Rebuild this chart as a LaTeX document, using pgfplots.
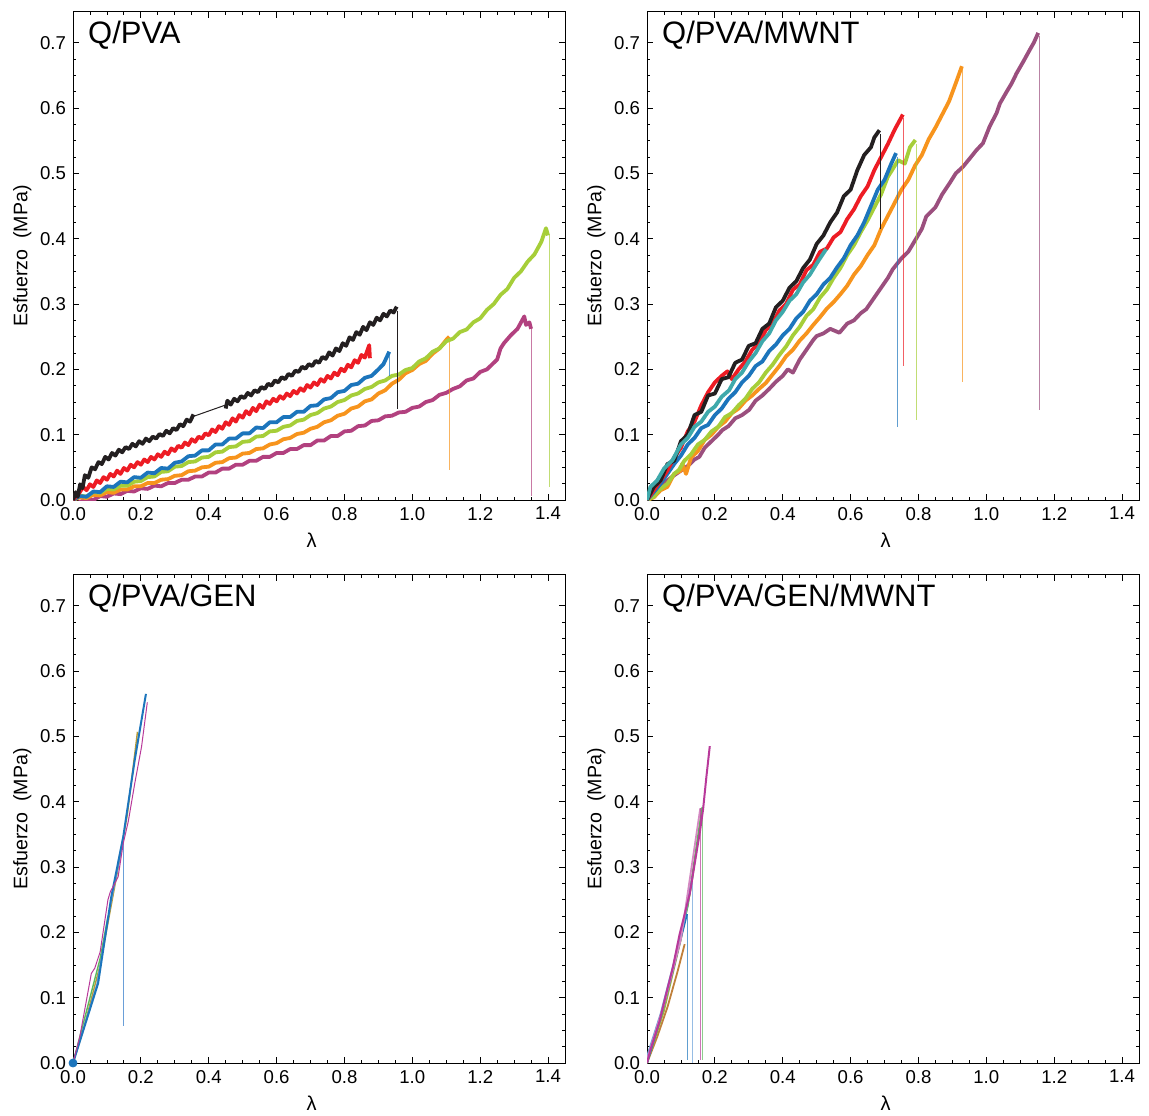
\documentclass[border=0pt]{standalone}
\usepackage{pgfplots}
\pgfplotsset{compat=1.18}
\usepackage{fontspec}
\setmainfont{Liberation Sans}
\definecolor{cblack}{HTML}{231F20}
\definecolor{cred}{HTML}{ED1C24}
\definecolor{cblue}{HTML}{1C75BC}
\definecolor{cgreen}{HTML}{A6CE39}
\definecolor{corange}{HTML}{F7941D}
\definecolor{cpurple}{HTML}{B2417F}
\definecolor{cmauve}{HTML}{9B4F7E}
\definecolor{cteal}{HTML}{3FA9AB}
\definecolor{colive}{HTML}{B89B36}
\definecolor{cgreen2}{HTML}{5DB85C}
\definecolor{cmag}{HTML}{B8399A}
\definecolor{clblue}{HTML}{6A9FD8}
\definecolor{cbrown}{HTML}{C0803A}
\definecolor{colive2}{HTML}{9CB040}
\tikzset{
  thickc/.style={line width=1.9pt},
  dropl/.style={line width=0.5pt, opacity=0.7},
  ttl/.style={anchor=west, inner sep=0pt, font=\fontsize{15.5}{18}\selectfont},
}
\pgfplotsset{
  myax/.style={
    scale only axis, width=246pt, height=244pt,
    xmin=0, xmax=1.45, ymin=0, ymax=0.747,
    xtick={0,0.2,0.4,0.6,0.8,1.0,1.2,1.4},
    ytick={0,0.1,0.2,0.3,0.4,0.5,0.6,0.7},
    minor x tick num=3, minor y tick num=3,
    tick align=inside, major tick length=3pt, minor tick length=1.6pt,
    every tick/.style={black, line width=0.4pt},
    axis line style={line width=0.5pt, black},
    /pgf/number format/assume math mode=true,
    xticklabel style={/pgf/number format/.cd, fixed, fixed zerofill, precision=1, /tikz/.cd, font=\fontsize{9.3}{10}\selectfont},
    yticklabel style={/pgf/number format/.cd, fixed, fixed zerofill, precision=1, /tikz/.cd, font=\fontsize{9.3}{10}\selectfont},
    xlabel={λ}, ylabel={Esfuerzo\ \ (MPa)},
    xlabel style={at={(axis description cs:0.485,-0.082)}, anchor=center, font=\fontsize{10}{11}\selectfont},
    ylabel style={at={(axis description cs:-0.103,0.5)}, anchor=center, font=\fontsize{9.8}{11}\selectfont},
    every axis plot/.append style={line join=round},
  },
}
\begin{document}
\begin{tikzpicture}
%%%%%%%%%%%%%%%%%%%% Panel 1: Q/PVA
\begin{axis}[myax, at={(36.5pt,307.5pt)}, anchor=south west]
\node[ttl] at (axis description cs:0.03,0.953) {Q/PVA};
% purple
\addplot[cpurple, thickc] coordinates {(0,-0.01)(0.02,-0.003)(0.04,0.001)(0.06,0.0)(0.08,0.006)(0.1,0.005)(0.12,0.01)(0.14,0.009)(0.16,0.014)(0.18,0.013)(0.2,0.018)(0.22,0.017)(0.24,0.022)(0.26,0.021)(0.28,0.026)(0.3,0.026)(0.32,0.031)(0.34,0.031)(0.36,0.036)(0.38,0.036)(0.4,0.042)(0.42,0.042)(0.44,0.048)(0.46,0.048)(0.48,0.054)(0.5,0.054)(0.52,0.06)(0.54,0.06)(0.56,0.066)(0.58,0.066)(0.6,0.072)(0.62,0.072)(0.64,0.078)(0.66,0.078)(0.68,0.084)(0.7,0.084)(0.72,0.091)(0.74,0.091)(0.76,0.098)(0.78,0.098)(0.8,0.105)(0.82,0.106)(0.84,0.113)(0.86,0.114)(0.88,0.121)(0.9,0.122)(0.92,0.128)(0.94,0.129)(0.96,0.134)(0.98,0.135)(1.0,0.141)(1.02,0.143)(1.04,0.15)(1.06,0.153)(1.08,0.161)(1.1,0.164)(1.12,0.17)(1.14,0.174)(1.16,0.183)(1.18,0.186)(1.2,0.196)(1.22,0.2)(1.24,0.21)(1.25,0.215)(1.26,0.232)(1.27,0.24)(1.29,0.252)(1.31,0.262)(1.33,0.281)(1.335,0.268)(1.345,0.272)(1.35,0.262)};
\addplot[cpurple, dropl] coordinates {(1.352,0.265)(1.352,0.006)};
% orange
\addplot[corange, thickc] coordinates {(0,0)(0.02,0.004)(0.04,0.003)(0.06,0.008)(0.08,0.007)(0.1,0.012)(0.12,0.011)(0.14,0.016)(0.16,0.016)(0.18,0.021)(0.2,0.021)(0.22,0.026)(0.24,0.026)(0.26,0.031)(0.28,0.032)(0.3,0.037)(0.32,0.038)(0.34,0.044)(0.36,0.045)(0.38,0.05)(0.4,0.051)(0.42,0.057)(0.44,0.058)(0.46,0.064)(0.48,0.065)(0.5,0.071)(0.52,0.072)(0.54,0.078)(0.56,0.079)(0.58,0.085)(0.6,0.087)(0.62,0.093)(0.64,0.095)(0.66,0.101)(0.68,0.103)(0.7,0.109)(0.72,0.112)(0.74,0.119)(0.76,0.122)(0.78,0.129)(0.8,0.132)(0.82,0.14)(0.84,0.143)(0.86,0.151)(0.88,0.154)(0.9,0.163)(0.92,0.168)(0.94,0.178)(0.96,0.184)(0.98,0.194)(1.0,0.199)(1.02,0.208)(1.04,0.213)(1.06,0.224)(1.08,0.232)(1.1,0.245)(1.109,0.25)};
\addplot[corange, dropl] coordinates {(1.11,0.248)(1.11,0.046)};
% green
\addplot[cgreen, thickc] coordinates {(0,0)(0.02,0.007)(0.04,0.005)(0.06,0.012)(0.08,0.011)(0.1,0.017)(0.12,0.016)(0.14,0.022)(0.16,0.022)(0.18,0.028)(0.2,0.029)(0.22,0.035)(0.24,0.036)(0.26,0.043)(0.28,0.044)(0.3,0.051)(0.32,0.052)(0.34,0.058)(0.36,0.059)(0.38,0.065)(0.4,0.066)(0.42,0.073)(0.44,0.074)(0.46,0.081)(0.48,0.082)(0.5,0.089)(0.52,0.09)(0.54,0.097)(0.56,0.098)(0.58,0.105)(0.6,0.106)(0.62,0.112)(0.64,0.114)(0.66,0.121)(0.68,0.123)(0.7,0.13)(0.72,0.133)(0.74,0.14)(0.76,0.143)(0.78,0.15)(0.8,0.153)(0.82,0.16)(0.84,0.163)(0.86,0.17)(0.88,0.173)(0.9,0.18)(0.92,0.183)(0.94,0.19)(0.96,0.192)(0.98,0.199)(1.0,0.202)(1.02,0.212)(1.04,0.217)(1.06,0.227)(1.08,0.232)(1.1,0.243)(1.12,0.247)(1.14,0.257)(1.16,0.261)(1.18,0.272)(1.2,0.278)(1.22,0.291)(1.24,0.3)(1.26,0.314)(1.28,0.323)(1.3,0.34)(1.32,0.35)(1.34,0.365)(1.36,0.376)(1.38,0.395)(1.394,0.416)(1.4,0.405)};
\addplot[cgreen, dropl] coordinates {(1.405,0.405)(1.405,0.02)};
% blue
\addplot[cblue, thickc] coordinates {(0,0)(0.02,0.006)(0.04,0.005)(0.06,0.013)(0.08,0.012)(0.1,0.021)(0.12,0.02)(0.14,0.028)(0.16,0.027)(0.18,0.035)(0.2,0.034)(0.22,0.042)(0.24,0.041)(0.26,0.049)(0.28,0.048)(0.3,0.057)(0.32,0.059)(0.34,0.067)(0.36,0.068)(0.38,0.076)(0.4,0.076)(0.42,0.085)(0.44,0.085)(0.46,0.094)(0.48,0.094)(0.5,0.102)(0.52,0.102)(0.54,0.111)(0.56,0.11)(0.58,0.119)(0.6,0.119)(0.62,0.127)(0.64,0.127)(0.66,0.135)(0.68,0.135)(0.7,0.144)(0.72,0.145)(0.74,0.154)(0.76,0.156)(0.78,0.165)(0.8,0.167)(0.82,0.176)(0.84,0.178)(0.86,0.187)(0.88,0.19)(0.9,0.2)(0.915,0.208)(0.932,0.227)};
\addplot[cblue, dropl] coordinates {(0.934,0.224)(0.934,0.19)};
% red
\addplot[cred, thickc] coordinates {(0,0)(0.02,0.012)(0.03,0.02)(0.04,0.015)(0.05,0.024)(0.06,0.02)(0.07,0.03)(0.08,0.026)(0.09,0.035)(0.1,0.031)(0.11,0.04)(0.12,0.036)(0.13,0.045)(0.14,0.04)(0.15,0.049)(0.16,0.045)(0.17,0.054)(0.18,0.05)(0.19,0.058)(0.2,0.054)(0.21,0.062)(0.22,0.058)(0.23,0.066)(0.24,0.062)(0.25,0.07)(0.26,0.066)(0.27,0.074)(0.28,0.07)(0.29,0.079)(0.3,0.075)(0.31,0.083)(0.32,0.08)(0.33,0.088)(0.34,0.084)(0.35,0.093)(0.36,0.089)(0.37,0.097)(0.38,0.094)(0.39,0.102)(0.4,0.099)(0.41,0.108)(0.42,0.104)(0.43,0.113)(0.44,0.109)(0.45,0.119)(0.46,0.115)(0.47,0.125)(0.48,0.12)(0.49,0.13)(0.5,0.126)(0.51,0.136)(0.52,0.131)(0.53,0.141)(0.54,0.136)(0.55,0.146)(0.56,0.141)(0.57,0.151)(0.58,0.147)(0.59,0.155)(0.6,0.151)(0.61,0.159)(0.62,0.155)(0.63,0.163)(0.64,0.159)(0.65,0.167)(0.66,0.163)(0.67,0.171)(0.68,0.167)(0.69,0.176)(0.7,0.172)(0.71,0.18)(0.72,0.176)(0.73,0.185)(0.74,0.181)(0.75,0.19)(0.76,0.186)(0.77,0.195)(0.78,0.191)(0.79,0.201)(0.8,0.197)(0.81,0.207)(0.82,0.203)(0.83,0.214)(0.84,0.21)(0.85,0.222)(0.86,0.218)(0.873,0.237)(0.875,0.217)};
% black
\addplot[cblack, thickc] coordinates {(0,0)(0.008,0.012)(0.014,0.005)(0.021,0.024)(0.028,0.018)(0.035,0.038)(0.045,0.034)(0.055,0.05)(0.065,0.047)(0.075,0.058)(0.085,0.055)(0.095,0.066)(0.105,0.062)(0.115,0.072)(0.125,0.068)(0.135,0.077)(0.145,0.073)(0.155,0.081)(0.165,0.078)(0.175,0.086)(0.185,0.082)(0.195,0.09)(0.205,0.086)(0.215,0.094)(0.225,0.09)(0.235,0.097)(0.245,0.094)(0.255,0.101)(0.265,0.098)(0.275,0.106)(0.285,0.102)(0.295,0.11)(0.305,0.107)(0.315,0.116)(0.325,0.113)(0.335,0.123)(0.345,0.12)(0.355,0.131)};
\addplot[cblack, line width=0.5pt] coordinates {(0.355,0.128)(0.453,0.146)};
\addplot[cblack, thickc] coordinates {(0.45,0.14)(0.455,0.152)(0.465,0.146)(0.475,0.155)(0.485,0.151)(0.495,0.159)(0.505,0.156)(0.515,0.164)(0.525,0.16)(0.535,0.168)(0.545,0.165)(0.555,0.173)(0.565,0.17)(0.575,0.178)(0.585,0.175)(0.595,0.183)(0.605,0.18)(0.615,0.188)(0.625,0.185)(0.635,0.193)(0.645,0.19)(0.655,0.198)(0.665,0.196)(0.675,0.204)(0.685,0.201)(0.695,0.208)(0.705,0.205)(0.715,0.213)(0.725,0.21)(0.735,0.219)(0.745,0.216)(0.755,0.226)(0.765,0.221)(0.775,0.232)(0.785,0.228)(0.795,0.24)(0.805,0.236)(0.815,0.249)(0.825,0.245)(0.835,0.257)(0.845,0.253)(0.855,0.265)(0.865,0.26)(0.875,0.272)(0.885,0.268)(0.895,0.279)(0.905,0.275)(0.915,0.285)(0.925,0.281)(0.935,0.29)(0.945,0.287)(0.954,0.296)};
\addplot[cblack, line width=0.6pt] coordinates {(0.956,0.29)(0.956,0.14)};
\end{axis}
%%%%%%%%%%%%%%%%%%%% Panel 2: Q/PVA/MWNT
\begin{axis}[myax, at={(323.5pt,307.5pt)}, anchor=south west]
\node[ttl] at (axis description cs:0.03,0.953) {Q/PVA/MWNT};
% mauve
\addplot[cmauve, thickc] coordinates {(0,0)(0.016,0.005)(0.04,0.02)(0.06,0.03)(0.075,0.036)(0.1,0.045)(0.12,0.052)(0.14,0.062)(0.154,0.066)(0.17,0.08)(0.19,0.09)(0.21,0.1)(0.222,0.107)(0.24,0.113)(0.26,0.125)(0.28,0.13)(0.301,0.138)(0.32,0.152)(0.34,0.16)(0.36,0.17)(0.38,0.181)(0.4,0.19)(0.415,0.2)(0.43,0.195)(0.45,0.215)(0.47,0.23)(0.49,0.245)(0.5,0.251)(0.52,0.255)(0.54,0.262)(0.567,0.256)(0.59,0.27)(0.61,0.275)(0.63,0.286)(0.646,0.292)(0.67,0.31)(0.69,0.325)(0.71,0.34)(0.724,0.353)(0.75,0.37)(0.77,0.38)(0.793,0.40)(0.81,0.415)(0.823,0.434)(0.85,0.448)(0.87,0.468)(0.892,0.485)(0.91,0.5)(0.931,0.51)(0.95,0.522)(0.97,0.535)(0.99,0.546)(1.01,0.572)(1.03,0.592)(1.04,0.607)(1.06,0.625)(1.075,0.638)(1.089,0.653)(1.11,0.672)(1.128,0.689)(1.14,0.7)(1.153,0.715)};
\addplot[cmauve, dropl] coordinates {(1.156,0.71)(1.156,0.138)};
% orange
\addplot[corange, thickc] coordinates {(0,0)(0.02,0.004)(0.04,0.015)(0.06,0.02)(0.08,0.04)(0.1,0.045)(0.104,0.056)(0.115,0.04)(0.13,0.065)(0.15,0.075)(0.17,0.092)(0.19,0.1)(0.21,0.112)(0.23,0.12)(0.25,0.133)(0.27,0.14)(0.29,0.152)(0.31,0.16)(0.33,0.17)(0.35,0.179)(0.37,0.192)(0.39,0.205)(0.41,0.22)(0.43,0.23)(0.45,0.244)(0.47,0.255)(0.49,0.268)(0.51,0.28)(0.53,0.293)(0.55,0.303)(0.57,0.315)(0.59,0.328)(0.61,0.345)(0.63,0.358)(0.65,0.375)(0.67,0.39)(0.69,0.415)(0.71,0.435)(0.73,0.455)(0.75,0.475)(0.77,0.49)(0.79,0.512)(0.81,0.528)(0.83,0.552)(0.85,0.57)(0.87,0.59)(0.89,0.61)(0.91,0.638)(0.928,0.664)};
\addplot[corange, dropl] coordinates {(0.929,0.66)(0.929,0.18)};
% green
\addplot[cgreen, thickc] coordinates {(0,0)(0.02,0.005)(0.035,0.015)(0.06,0.025)(0.08,0.04)(0.094,0.046)(0.11,0.06)(0.13,0.07)(0.15,0.085)(0.17,0.092)(0.19,0.105)(0.21,0.112)(0.23,0.127)(0.25,0.133)(0.27,0.145)(0.29,0.155)(0.31,0.17)(0.33,0.18)(0.35,0.195)(0.37,0.207)(0.39,0.222)(0.41,0.235)(0.43,0.252)(0.45,0.265)(0.47,0.282)(0.49,0.292)(0.51,0.31)(0.53,0.322)(0.55,0.34)(0.57,0.355)(0.59,0.375)(0.61,0.39)(0.63,0.41)(0.65,0.428)(0.67,0.448)(0.69,0.468)(0.71,0.495)(0.72,0.503)(0.74,0.52)(0.76,0.515)(0.775,0.54)(0.791,0.551)};
\addplot[cgreen, dropl] coordinates {(0.793,0.545)(0.793,0.123)};
% blue
\addplot[cblue, thickc] coordinates {(0,0)(0.02,0.012)(0.04,0.025)(0.06,0.04)(0.08,0.055)(0.1,0.068)(0.12,0.085)(0.14,0.095)(0.16,0.11)(0.18,0.115)(0.2,0.13)(0.22,0.14)(0.24,0.155)(0.26,0.165)(0.28,0.18)(0.3,0.19)(0.32,0.205)(0.34,0.212)(0.36,0.228)(0.38,0.238)(0.4,0.252)(0.42,0.262)(0.44,0.278)(0.46,0.288)(0.48,0.305)(0.5,0.315)(0.52,0.33)(0.54,0.34)(0.56,0.356)(0.58,0.37)(0.6,0.39)(0.62,0.405)(0.64,0.425)(0.66,0.45)(0.68,0.475)(0.7,0.49)(0.72,0.515)(0.734,0.531)};
\addplot[cblue, dropl] coordinates {(0.737,0.525)(0.737,0.111)};
% red
\addplot[cred, thickc] coordinates {(0,0)(0.02,0.015)(0.04,0.03)(0.06,0.045)(0.08,0.065)(0.1,0.08)(0.12,0.105)(0.14,0.12)(0.16,0.145)(0.18,0.165)(0.2,0.18)(0.22,0.19)(0.237,0.197)(0.25,0.185)(0.27,0.2)(0.29,0.212)(0.31,0.23)(0.33,0.24)(0.35,0.26)(0.37,0.27)(0.39,0.29)(0.41,0.3)(0.43,0.322)(0.45,0.33)(0.47,0.352)(0.49,0.36)(0.51,0.38)(0.53,0.385)(0.55,0.402)(0.57,0.41)(0.59,0.43)(0.61,0.445)(0.63,0.465)(0.65,0.48)(0.67,0.505)(0.69,0.525)(0.71,0.545)(0.73,0.567)(0.754,0.59)};
\addplot[cred, dropl] coordinates {(0.757,0.585)(0.757,0.205)};
% black
\addplot[cblack, thickc] coordinates {(0,0)(0.02,0.02)(0.04,0.03)(0.06,0.055)(0.08,0.06)(0.1,0.09)(0.12,0.1)(0.14,0.13)(0.16,0.135)(0.18,0.16)(0.2,0.163)(0.22,0.185)(0.24,0.188)(0.26,0.21)(0.28,0.215)(0.3,0.236)(0.32,0.24)(0.34,0.262)(0.36,0.27)(0.38,0.295)(0.4,0.305)(0.42,0.325)(0.44,0.335)(0.46,0.355)(0.48,0.368)(0.5,0.392)(0.52,0.405)(0.54,0.425)(0.56,0.44)(0.58,0.465)(0.6,0.475)(0.62,0.505)(0.64,0.528)(0.66,0.54)(0.67,0.555)(0.685,0.566)};
\addplot[cblack, line width=0.6pt] coordinates {(0.687,0.56)(0.687,0.415)};
% teal
\addplot[cteal, thickc] coordinates {(0,0)(0.01,0.02)(0.03,0.03)(0.05,0.048)(0.075,0.061)(0.1,0.085)(0.12,0.095)(0.14,0.112)(0.16,0.12)(0.18,0.135)(0.2,0.143)(0.22,0.158)(0.242,0.168)(0.26,0.185)(0.28,0.195)(0.3,0.212)(0.32,0.225)(0.34,0.243)(0.36,0.255)(0.38,0.275)(0.4,0.288)(0.42,0.305)(0.44,0.315)(0.46,0.333)(0.48,0.345)(0.5,0.362)(0.51,0.37)(0.528,0.384)};
\end{axis}
%%%%%%%%%%%%%%%%%%%% Panel 3: Q/PVA/GEN
\begin{axis}[myax, at={(36.5pt,26pt)}, anchor=south west]
\node[ttl] at (axis description cs:0.03,0.953) {Q/PVA/GEN};
\addplot[colive, line width=0.7pt] coordinates {(0,0)(0.03,0.05)(0.08,0.15)(0.13,0.29)(0.16,0.38)(0.19,0.507)};
\addplot[cgreen2, line width=0.7pt] coordinates {(0,0)(0.05,0.1)(0.08,0.16)(0.103,0.224)};
\addplot[clblue, line width=0.6pt] coordinates {(0,0)(0.07,0.12)(0.11,0.24)(0.148,0.34)};
\addplot[clblue, line width=0.6pt] coordinates {(0.148,0.34)(0.148,0.056)};
\addplot[cblue, line width=1pt] coordinates {(0,0)(0.074,0.122)(0.113,0.255)(0.148,0.346)(0.182,0.464)(0.215,0.565)};
\addplot[cmag, line width=0.5pt] coordinates {(0,0)(0.02,0.04)(0.054,0.137)(0.064,0.145)(0.08,0.17)(0.103,0.25)(0.11,0.262)(0.133,0.285)(0.148,0.336)(0.163,0.37)(0.182,0.428)(0.202,0.484)(0.219,0.552)};
\addplot[cblue, only marks, mark=*, mark size=2pt] coordinates {(0,0)};
\end{axis}
%%%%%%%%%%%%%%%%%%%% Panel 4: Q/PVA/GEN/MWNT
\begin{axis}[myax, at={(323.5pt,26pt)}, anchor=south west]
\node[ttl] at (axis description cs:0.03,0.953) {Q/PVA/GEN/MWNT};
\addplot[cbrown, line width=0.9pt] coordinates {(0,0)(0.03,0.04)(0.06,0.085)(0.09,0.14)(0.111,0.182)};
\addplot[colive2, line width=0.9pt] coordinates {(0,0)(0.05,0.08)(0.1,0.19)(0.13,0.27)(0.16,0.38)};
\addplot[cgreen2, line width=0.9pt] coordinates {(0,0)(0.04,0.07)(0.08,0.15)(0.12,0.24)(0.163,0.392)};
\addplot[cgreen2, dropl] coordinates {(0.165,0.385)(0.165,0.005)};
\addplot[cblue, line width=0.9pt] coordinates {(0,0)(0.04,0.07)(0.08,0.15)(0.118,0.228)};
\addplot[cblue, dropl] coordinates {(0.119,0.228)(0.119,0.005)};
\addplot[clblue, line width=0.9pt] coordinates {(0,0.01)(0.04,0.075)(0.08,0.155)(0.11,0.22)(0.134,0.285)};
\addplot[clblue, dropl] coordinates {(0.134,0.285)(0.134,0.0)};
\addplot[cmag!60, line width=0.9pt] coordinates {(0,0.005)(0.05,0.09)(0.1,0.19)(0.157,0.39)};
\addplot[cmag, dropl] coordinates {(0.157,0.39)(0.157,0.005)};
\addplot[cmag, line width=1pt] coordinates {(0,0)(0.01,0.02)(0.037,0.064)(0.056,0.105)(0.076,0.146)(0.096,0.197)(0.126,0.259)(0.155,0.351)(0.165,0.387)(0.175,0.438)(0.185,0.485)};
\end{axis}
\pgfresetboundingbox
\path[use as bounding box] (0pt,0pt) rectangle (574.5pt,557.5pt);
\end{tikzpicture}
\end{document}
